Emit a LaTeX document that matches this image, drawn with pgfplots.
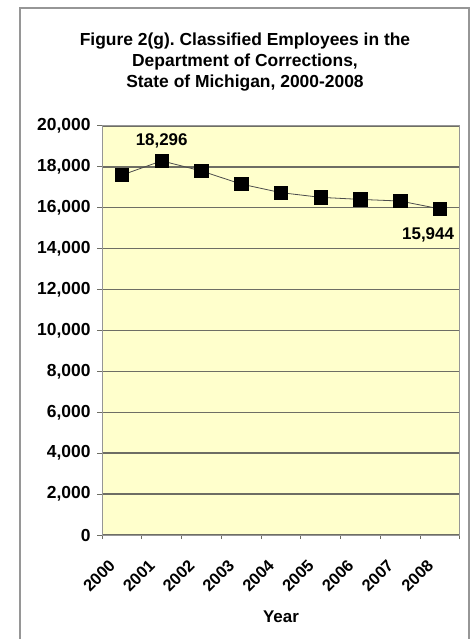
\documentclass[border=0pt]{standalone}
\usepackage{fontspec}
\setmainfont{Liberation Sans}
\usepackage{pgfplots}
\pgfplotsset{compat=1.18}
\definecolor{plotbg}{RGB}{255,255,204}
\definecolor{gridc}{RGB}{110,110,100}
\definecolor{framec}{RGB}{150,150,150}
\frenchspacing
\begin{document}
\begin{tikzpicture}
\useasboundingbox (0,0) rectangle (474bp,639bp);
\fill[white] (0,0) rectangle (474bp,639bp);
\draw[framec, line width=1.2bp] (20bp,-5bp) rectangle (469bp,631bp);
\begin{axis}[
  at={(102bp,104bp)}, anchor=south west,
  scale only axis, width=358bp, height=409bp,
  xmin=-0.5, xmax=8.5, ymin=0, ymax=20000,
  axis background/.style={fill=plotbg},
  axis line style={framec, line width=1bp},
  xtick={0,1,2,3,4,5,6,7,8},
  xticklabels={2000,2001,2002,2003,2004,2005,2006,2007,2008},
  minor xtick={-0.5,0.5,1.5,2.5,3.5,4.5,5.5,6.5,7.5,8.5},
  major x tick style={draw=none},
  minor x tick style={draw=gridc, line width=1bp},
  ytick={0,2000,...,20000},
  y tick style={draw=gridc, line width=1bp},
  tick align=outside, tick pos=left,
  major tick length=5bp, minor tick length=4bp,
  ymajorgrids,
  major grid style={gridc, line width=1.4bp},
  scaled y ticks=false,
  /pgf/number format/assume math mode=true,
  yticklabel style={font=\fontsize{17.5}{17.5}\selectfont\bfseries, xshift=-3bp, /pgf/number format/.cd, 1000 sep={,}},
  xticklabel style={font=\fontsize{16.5}{16.5}\selectfont\bfseries, xshift=-14bp, yshift=-17bp, rotate=45, anchor=north east, inner sep=1bp},
  xlabel={Year},
  x label style={at={(axis description cs:0.5,0)}, anchor=center, yshift=-82bp, font=\fontsize{17}{17}\selectfont\bfseries},
]
\addplot[black!70, line width=0.8bp, mark=square*, mark size=6.7bp, mark options={fill=black, draw=black, solid}]
  coordinates {(0,17600)(1,18296)(2,17800)(3,17160)(4,16740)(5,16510)(6,16410)(7,16330)(8,15944)};
\node[font=\fontsize{17}{17}\selectfont\bfseries] at (axis cs:1,18296) [yshift=20bp] {18,296};
\node[font=\fontsize{17}{17}\selectfont\bfseries] at (axis cs:8,15944) [xshift=-12bp, yshift=-26bp] {15,944};
\end{axis}
\node[align=center, font=\fontsize{17.5}{21.5}\selectfont\bfseries] at (245bp,577bp)
  {Figure 2(g). Classified Employees in the\\Department of Corrections,\\State of Michigan, 2000-2008};
\end{tikzpicture}
\end{document}
